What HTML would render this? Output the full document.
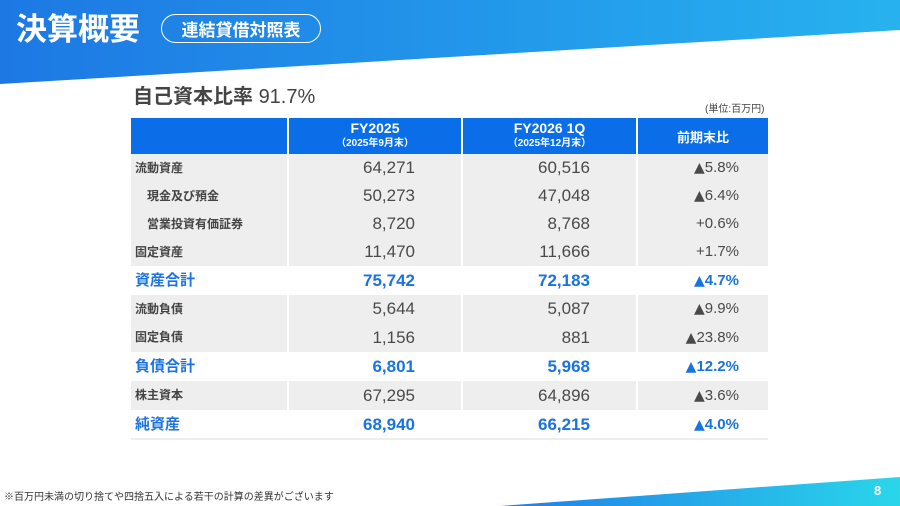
<!DOCTYPE html><html><head><meta charset="utf-8"><style>
*{margin:0;padding:0;box-sizing:border-box}
body{width:900px;height:506px;position:relative;overflow:hidden;background:#fff;font-family:"Liberation Sans","Noto Sans CJK JP",sans-serif}
.a{position:absolute;white-space:nowrap}
.c{position:absolute;display:flex;align-items:center;white-space:nowrap}
.r{position:absolute;white-space:nowrap;text-align:right}
.l{position:absolute;white-space:nowrap}
</style></head><body>
<svg class="a" style="left:0;top:0" width="900" height="506">
<defs><linearGradient id="g1" x1="0" x2="1"><stop offset="0" stop-color="#1d78e4"/><stop offset="1" stop-color="#27b2ef"/></linearGradient>
<linearGradient id="g2" x1="0" x2="1"><stop offset="0" stop-color="#1f7ee8"/><stop offset="1" stop-color="#2ad6ea"/></linearGradient></defs>
<polygon points="0,0 900,0 900,30 0,84" fill="url(#g1)"/>
<polygon points="500,506 900,477 900,506" fill="url(#g2)"/>
<rect x="131" y="154" width="637" height="112" fill="#eeeeee"/>
<rect x="131" y="295" width="637" height="57" fill="#eeeeee"/>
<rect x="131" y="381" width="637" height="29" fill="#eeeeee"/>
<rect x="131" y="438" width="637" height="2" fill="#eeeeee"/>
<rect x="131" y="118" width="637" height="36" fill="#0a6ee8"/>
<g fill="#fff"><rect x="287" y="118" width="2" height="148"/><rect x="461" y="118" width="2" height="148"/><rect x="636" y="118" width="2" height="148"/>
<rect x="287" y="295" width="2" height="57"/><rect x="461" y="295" width="2" height="57"/><rect x="636" y="295" width="2" height="57"/>
<rect x="287" y="381" width="2" height="29"/><rect x="461" y="381" width="2" height="29"/><rect x="636" y="381" width="2" height="29"/></g>
</svg>
<div class="a" style="left:16px;top:10px;font-size:31px;font-weight:bold;color:#fff;line-height:40px">決算概要</div>
<div class="c" style="left:161px;top:14px;width:160px;height:29px;border:1.5px solid #fff;border-radius:15px;justify-content:center;color:#fff;font-size:17px;font-weight:bold">連結貸借対照表</div>
<div class="a" style="left:133px;top:84px;font-size:20px;color:#444;font-weight:bold;line-height:26px">自己資本比率 <span style="font-weight:normal">91.7%</span></div>
<div class="a" style="left:705px;top:100px;font-size:10px;color:#444">(単位:百万円)</div>
<div class="c" style="left:289px;top:118px;width:172px;height:36px;flex-direction:column;justify-content:center;color:#fff;font-weight:bold;line-height:15px"><div style="font-size:14px">FY2025</div><div style="font-size:10px">（2025年9月末）</div></div>
<div class="c" style="left:463px;top:118px;width:173px;height:36px;flex-direction:column;justify-content:center;color:#fff;font-weight:bold;line-height:15px"><div style="font-size:14px">FY2026 1Q</div><div style="font-size:10px">（2025年12月末）</div></div>
<div class="c" style="left:638px;top:118px;width:130px;height:36px;justify-content:center;color:#fff;font-weight:bold;font-size:13px">前期末比</div>
<div id="rows"></div>
<script>
var R=[["流動資産","64,271","60,516","▲5.8%",154,28,0,0],["現金及び預金","50,273","47,048","▲6.4%",182,28,0,1],["営業投資有価証券","8,720","8,768","+0.6%",210,28,0,1],["固定資産","11,470","11,666","+1.7%",238,28,0,0],["資産合計","75,742","72,183","▲4.7%",266,29,1,0],["流動負債","5,644","5,087","▲9.9%",295,28,0,0],["固定負債","1,156","881","▲23.8%",323,29,0,0],["負債合計","6,801","5,968","▲12.2%",352,29,1,0],["株主資本","67,295","64,896","▲3.6%",381,29,0,0],["純資産","68,940","66,215","▲4.0%",410,29,1,0]];
var h="";R.forEach(function(r){var col=r[6]?"#1a73e0":"#4a4a4a",ls=r[6]?15:12,ns=r[6]?17:17,t=r[4],H=r[5];
var st='top:'+t+'px;height:'+H+'px;line-height:'+H+'px;';
var fw=r[6]?'font-weight:bold;':'';
h+='<div class="l" style="left:'+(135+(r[7]?12:0))+'px;'+st+'font-size:'+ls+'px;font-weight:bold;color:'+(r[6]?col:'#444')+'">'+r[0]+'</div>';
h+='<div class="r" style="left:289px;width:126px;'+st+'font-size:'+ns+'px;'+fw+'color:'+col+'">'+r[1]+'</div>';
h+='<div class="r" style="left:463px;width:127px;'+st+'font-size:'+ns+'px;'+fw+'color:'+col+'">'+r[2]+'</div>';
var v=r[3].replace('▲','<span style="font-family:\'DejaVu Sans\',sans-serif;font-size:14px">▲</span>');
h+='<div class="r" style="left:638px;width:101px;'+st+'font-size:15px;'+fw+'color:'+col+'">'+v+'</div>';});
document.getElementById("rows").innerHTML=h;
</script>
<div class="a" style="left:4px;top:488px;font-size:10px;color:#333">※百万円未満の切り捨てや四捨五入による若干の計算の差異がございます</div>
<div class="a" style="left:874px;top:483px;font-size:13px;color:#fff;font-weight:bold">8</div>
</body></html>
